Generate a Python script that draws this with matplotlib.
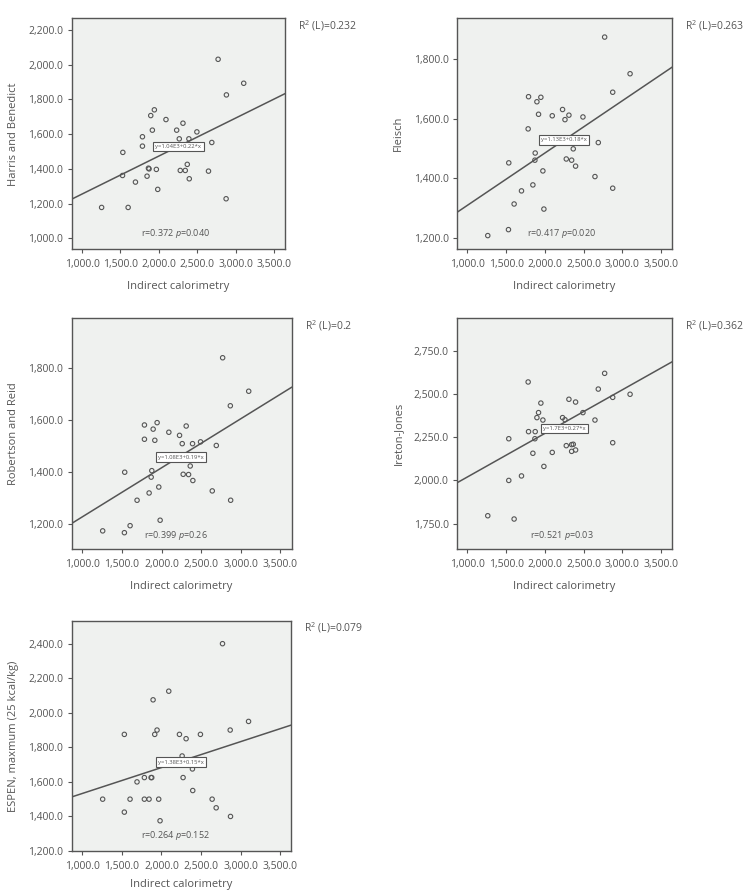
"""
Scatter plots of predictive equations vs indirect calorimetry,
with a linear fit line, equation box and r / p values.
"""

import matplotlib.pyplot as plt
from matplotlib.ticker import FuncFormatter, MultipleLocator

plt.rcParams['font.family'] = ['Open Sans', 'DejaVu Sans']
plt.rcParams['mathtext.fontset'] = 'custom'
plt.rcParams['mathtext.rm'] = 'Open Sans'
plt.rcParams['mathtext.it'] = 'Open Sans:italic'

GREY = '#555555'
AXBG = '#eff1ef'

# ---- data ----
hb_x = [1255, 1600, 1531, 1527, 1695, 1786, 1786, 1846, 1864, 1872, 1894,
        1915, 1941, 1967, 1985, 2092, 2231, 2265, 2278, 2313, 2343, 2369,
        2390, 2395, 2494, 2645, 2688, 2770, 2878, 2874, 3103]
hb_y = [1178, 1178, 1495, 1362, 1324, 1585, 1531, 1358, 1404, 1400, 1707,
        1623, 1740, 1397, 1282, 1684, 1623, 1573, 1391, 1663, 1391, 1426,
        1573, 1343, 1613, 1387, 1552, 2031, 1826, 1228, 1893]

fl_x = [1263, 1530, 1603, 1534, 1698, 1784, 1789, 1845, 1871, 1875, 1897,
        1918, 1948, 1974, 1987, 2095, 2228, 2259, 2276, 2310, 2345, 2366,
        2396, 2491, 2646, 2689, 2771, 2875, 2875, 3099]
fl_y = [1208, 1228, 1314, 1452, 1358, 1566, 1674, 1378, 1461, 1485, 1657,
        1615, 1672, 1425, 1297, 1610, 1631, 1597, 1465, 1612, 1461, 1499,
        1441, 1606, 1406, 1520, 1874, 1689, 1367, 1751]

rr_x = [1257, 1531, 1603, 1535, 1691, 1784, 1784, 1843, 1869, 1877, 1894,
        1915, 1944, 1965, 1982, 2092, 2227, 2261, 2273, 2311, 2341, 2362,
        2391, 2395, 2492, 2640, 2691, 2771, 2868, 2872, 3100]
rr_y = [1172, 1165, 1192, 1398, 1290, 1580, 1525, 1318, 1379, 1404, 1564,
        1521, 1589, 1341, 1213, 1552, 1540, 1508, 1390, 1576, 1389, 1422,
        1508, 1366, 1515, 1326, 1501, 1839, 1654, 1290, 1710]

ij_x = [1263, 1603, 1534, 1534, 1698, 1784, 1789, 1845, 1871, 1875, 1897,
        1918, 1948, 1974, 1987, 2095, 2228, 2259, 2276, 2310, 2345, 2345,
        2366, 2396, 2396, 2491, 2646, 2689, 2771, 2875, 2875, 3099]
ij_y = [1796, 1777, 2000, 2241, 2026, 2569, 2282, 2157, 2241, 2282, 2363,
        2392, 2447, 2349, 2081, 2162, 2363, 2351, 2201, 2469, 2207, 2168,
        2209, 2453, 2176, 2392, 2349, 2528, 2619, 2480, 2218, 2498]

es_x = [1257, 1531, 1531, 1603, 1691, 1784, 1784, 1843, 1869, 1877, 1894,
        1915, 1944, 1965, 1982, 2092, 2227, 2261, 2273, 2311, 2391, 2395,
        2492, 2640, 2691, 2771, 2868, 2872, 3100]
es_y = [1500, 1425, 1875, 1500, 1600, 1500, 1625, 1500, 1625, 1625, 2075,
        1875, 1900, 1500, 1375, 2125, 1875, 1750, 1625, 1850, 1675, 1550,
        1875, 1500, 1450, 2400, 1900, 1400, 1950]

# fit lines as drawn (intercept, slope)
hb_fit = (1036, 0.219)
fl_fit = (1134, 0.1755)
rr_fit = (1037, 0.189)
ij_fit = (1768, 0.252)
es_fit = (1383, 0.150)

panels = [
    dict(x=hb_x, y=hb_y, fit=hb_fit, ylabel='Harris and Benedict',
         eq='y=1.04E3+0.22*x', eqpos=(2254, 1529), r='0.372', p='0.040',
         rpos=(2222, 1027), r2='0.232', ylim=(937, 2267), ystep=200,
         rect=(71.7, 18.3, 285, 249.3)),
    dict(x=fl_x, y=fl_y, fit=fl_fit, ylabel='Fleisch',
         eq='y=1.13E3+0.18*x', eqpos=(2246, 1529), r='0.417', p='0.020',
         rpos=(2215, 1216), r2='0.263', ylim=(1162, 1937), ystep=200,
         rect=(457, 18.3, 672, 249.3)),
    dict(x=rr_x, y=rr_y, fit=rr_fit, ylabel='Robertson and Reid',
         eq='y=1.08E3+0.19*x', eqpos=(2248, 1456), r='0.399', p='0.26',
         rpos=(2185, 1156), r2='0.2', ylim=(1101, 1991), ystep=200,
         rect=(71.7, 318.3, 291.5, 549.3)),
    dict(x=ij_x, y=ij_y, fit=ij_fit, ylabel='Ireton-Jones',
         eq='y=1.7E3+0.27*x', eqpos=(2250, 2301), r='0.521', p='0.03',
         rpos=(2220, 1684), r2='0.362', ylim=(1602, 2937), ystep=250,
         rect=(457, 318.3, 672, 549.3)),
    dict(x=es_x, y=es_y, fit=es_fit, ylabel='ESPEN, maxmum (25 kcal/kg)',
         eq='y=1.38E3+0.15*x', eqpos=(2248, 1715), r='0.264', p='0.152',
         rpos=(2180, 1287), r2='0.079', ylim=(1200, 2533), ystep=200,
         rect=(71.7, 620.7, 291.3, 851)),
]

W, H = 746, 892
fig = plt.figure(figsize=(W / 100, H / 100), dpi=100)

xlim = (866, 3640)
fmt = FuncFormatter(lambda v, pos: f'{v:,.1f}')

for i, pn in enumerate(panels):
    l, t, r, b = pn['rect']
    ax = fig.add_axes([l / W, 1 - b / H, (r - l) / W, (b - t) / H])
    ax.set_facecolor(AXBG)
    ax.scatter(pn['x'], pn['y'], s=10, facecolors='none', edgecolors=GREY,
               linewidths=0.8, zorder=3)
    a, k = pn['fit']
    ax.plot(xlim, [a + k * xlim[0], a + k * xlim[1]], color=GREY, lw=1.1,
            zorder=2)
    ax.set_xlim(*xlim)
    ax.set_ylim(*pn['ylim'])
    ax.xaxis.set_major_locator(MultipleLocator(500))
    ax.yaxis.set_major_locator(MultipleLocator(pn['ystep']))
    ax.xaxis.set_major_formatter(fmt)
    ax.yaxis.set_major_formatter(fmt)
    ax.tick_params(labelsize=7.5, colors=GREY, length=3, width=0.8, pad=3)
    ax.tick_params(axis='x', pad=4)
    for s in ax.spines.values():
        s.set_color(GREY)
        s.set_linewidth(1.0)
    # last label sits at the very bottom of the page
    lp = 8 if i < len(panels) - 1 else 5
    ax.set_xlabel('Indirect calorimetry', fontsize=8, color=GREY, labelpad=lp)
    ax.set_ylabel(pn['ylabel'], fontsize=8, color=GREY, labelpad=7)

    ax.text(*pn['eqpos'], pn['eq'], fontsize=4.2, color=GREY, ha='center',
            va='center', zorder=4,
            bbox=dict(boxstyle='square,pad=0.4', fc='white', ec=GREY, lw=0.8))
    ax.text(*pn['rpos'], f"r={pn['r']} $\\it{{p}}$={pn['p']}", fontsize=6.5,
            color=GREY, ha='center', va='center')
    ax.text(1.06, 0.97, f"R$^2$ (L)={pn['r2']}", transform=ax.transAxes,
            fontsize=7.5, color=GREY, ha='left', va='center')

fig.savefig('out.png', dpi=100)
